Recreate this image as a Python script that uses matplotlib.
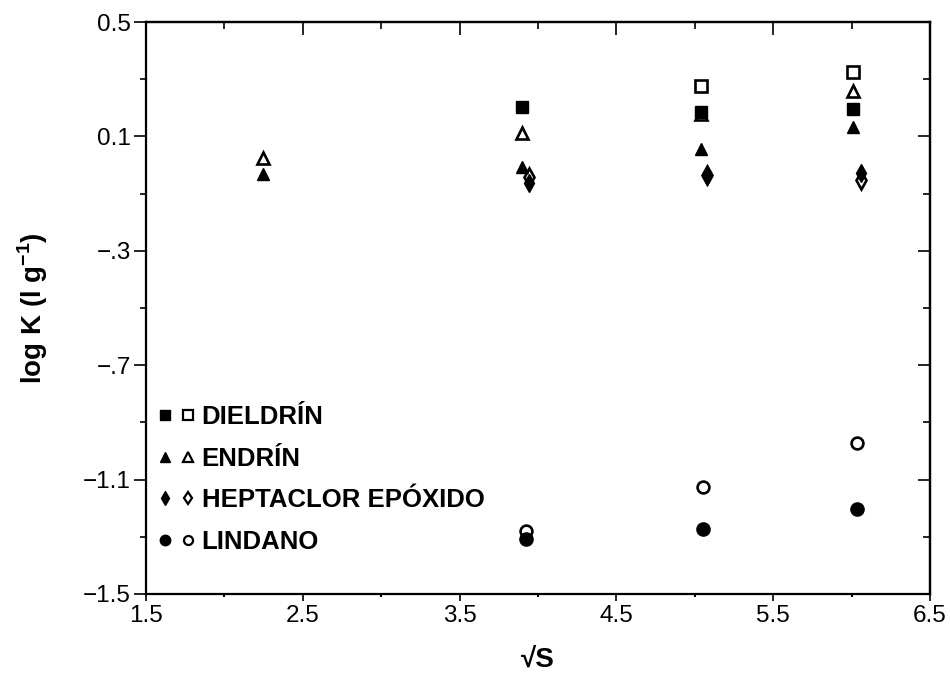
import matplotlib
matplotlib.use("Agg")
import matplotlib.pyplot as plt
from matplotlib.legend_handler import HandlerTuple
from matplotlib.lines import Line2D
import numpy as np

plt.rcParams['font.family'] = ['Liberation Sans', 'DejaVu Sans']
plt.rcParams['mathtext.fontset'] = 'custom'
plt.rcParams['mathtext.rm'] = 'Liberation Sans'
plt.rcParams['mathtext.bf'] = 'Liberation Sans:bold'

# ---- data ----
dieldrin_x_filled = [3.90, 5.04, 6.01]
dieldrin_filled = [0.203, 0.185, 0.196]
dieldrin_x_open = [5.04, 6.01]
dieldrin_open = [0.276, 0.325]

endrin_x = [2.246, 3.90, 5.04, 6.01]
endrin_filled = [-0.031, -0.007, 0.056, 0.133]
endrin_open = [0.024, 0.112, 0.178, 0.259]

heptaclor_x = [3.943, 5.078, 6.06]
heptaclor_filled = [-0.063, -0.040, -0.028]
heptaclor_open = [-0.042, -0.036, -0.052]

lindano_x = [3.923, 5.052, 6.034]
lindano_filled = [-1.308, -1.273, -1.203]
lindano_open = [-1.280, -1.126, -0.972]

labels = ["DIELDRÍN", "ENDRÍN", "HEPTACLOR EPÓXIDO", "LINDANO"]
x_ticks = [1.5, 2.5, 3.5, 4.5, 5.5, 6.5]
x_tick_labels = ["1.5", "2.5", "3.5", "4.5", "5.5", "6.5"]
x_minor = [2.0, 3.0, 4.0, 5.0, 6.0]
y_ticks = [0.5, 0.1, -0.3, -0.7, -1.1, -1.5]
y_tick_labels = ["0.5", "0.1", "\u2212.3", "\u2212.7", "\u22121.1", "\u22121.5"]
y_minor = [0.3, -0.1, -0.5, -0.9, -1.3]

fig = plt.figure(figsize=(9.5, 6.8), dpi=100)
ax = fig.add_axes([0.1537, 0.1265, 0.8253, 0.8411])

ms = 9
open_kw = dict(linestyle='none', markerfacecolor='white', markeredgecolor='black', markeredgewidth=1.9)
fill_kw = dict(linestyle='none', color='black')

# open markers first, filled on top
ax.plot(endrin_x, endrin_open, marker='^', markersize=ms, **open_kw, zorder=3)
ax.plot(dieldrin_x_open, dieldrin_open, marker='s', markersize=ms - 1, **open_kw, zorder=3)
ax.plot(heptaclor_x, heptaclor_open, marker='d', markersize=ms, **open_kw, zorder=3)
ax.plot(lindano_x, lindano_open, marker='o', markersize=ms - 0.5, **open_kw, zorder=3)

ax.plot(dieldrin_x_filled, dieldrin_filled, marker='s', markersize=ms, **fill_kw, zorder=4)
ax.plot(endrin_x, endrin_filled, marker='^', markersize=ms, **fill_kw, zorder=4)
ax.plot(heptaclor_x, heptaclor_filled, marker='d', markersize=ms, **fill_kw, zorder=4)
ax.plot(lindano_x, lindano_filled, marker='o', markersize=ms + 0.5, **fill_kw, zorder=4)

ax.set_xlim(1.5, 6.5)
ax.set_ylim(-1.5, 0.5)

ax.set_xticks(x_ticks)
ax.set_xticklabels(x_tick_labels)
ax.set_xticks(x_minor, minor=True)
ax.set_yticks(y_ticks)
ax.set_yticklabels(y_tick_labels)
ax.set_yticks(y_minor, minor=True)

ax.tick_params(axis='x', which='major', direction='out', length=5, width=1.2,
               labelsize=17.5, pad=3)
ax.tick_params(axis='x', which='minor', direction='out', length=2.5, width=1.5)
ax.tick_params(axis='y', which='major', direction='out', length=9, width=1.2,
               labelsize=17.5, pad=2)
ax.tick_params(axis='y', which='minor', direction='out', length=4, width=1.2)

# inward ticks on top and right
top = ax.secondary_xaxis('top')
top.set_xticks(x_ticks)
top.set_xticks(x_minor, minor=True)
top.tick_params(which='major', direction='in', length=9, width=1.2, labeltop=False)
top.tick_params(which='minor', direction='in', length=5, width=1.2)
top.spines['top'].set_linewidth(1.6)
right = ax.secondary_yaxis('right')
right.set_yticks(y_ticks)
right.set_yticks(y_minor, minor=True)
right.tick_params(which='major', direction='in', length=9, width=1.2, labelright=False)
right.tick_params(which='minor', direction='in', length=5, width=1.2)
right.spines['right'].set_linewidth(1.6)

for s in ax.spines.values():
    s.set_linewidth(1.6)

ax.set_xlabel("\u221AS", fontsize=20, fontweight='bold', labelpad=14)
ax.set_ylabel(r"log K (l g$^{\mathbf{-1}}$)", fontsize=20, fontweight='bold', labelpad=24)

lms = 7.5
def pair(m):
    return (Line2D([], [], marker=m, markersize=lms, **fill_kw),
            Line2D([], [], marker=m, markersize=lms - 1, markerfacecolor='white',
                   markeredgecolor='black', markeredgewidth=1.6, linestyle='none'))

handles = [pair('s'), pair('^'), pair('d'), pair('o')]
leg = ax.legend(handles, labels, handler_map={tuple: HandlerTuple(ndivide=None, pad=0.4)},
                loc='lower left', bbox_to_anchor=(-0.006, 0.039), frameon=False,
                prop={'weight': 'bold', 'size': 18.5}, handlelength=1.35, handletextpad=0.3,
                labelspacing=0.68, borderaxespad=0.3)

fig.savefig("out.png", dpi=100)
